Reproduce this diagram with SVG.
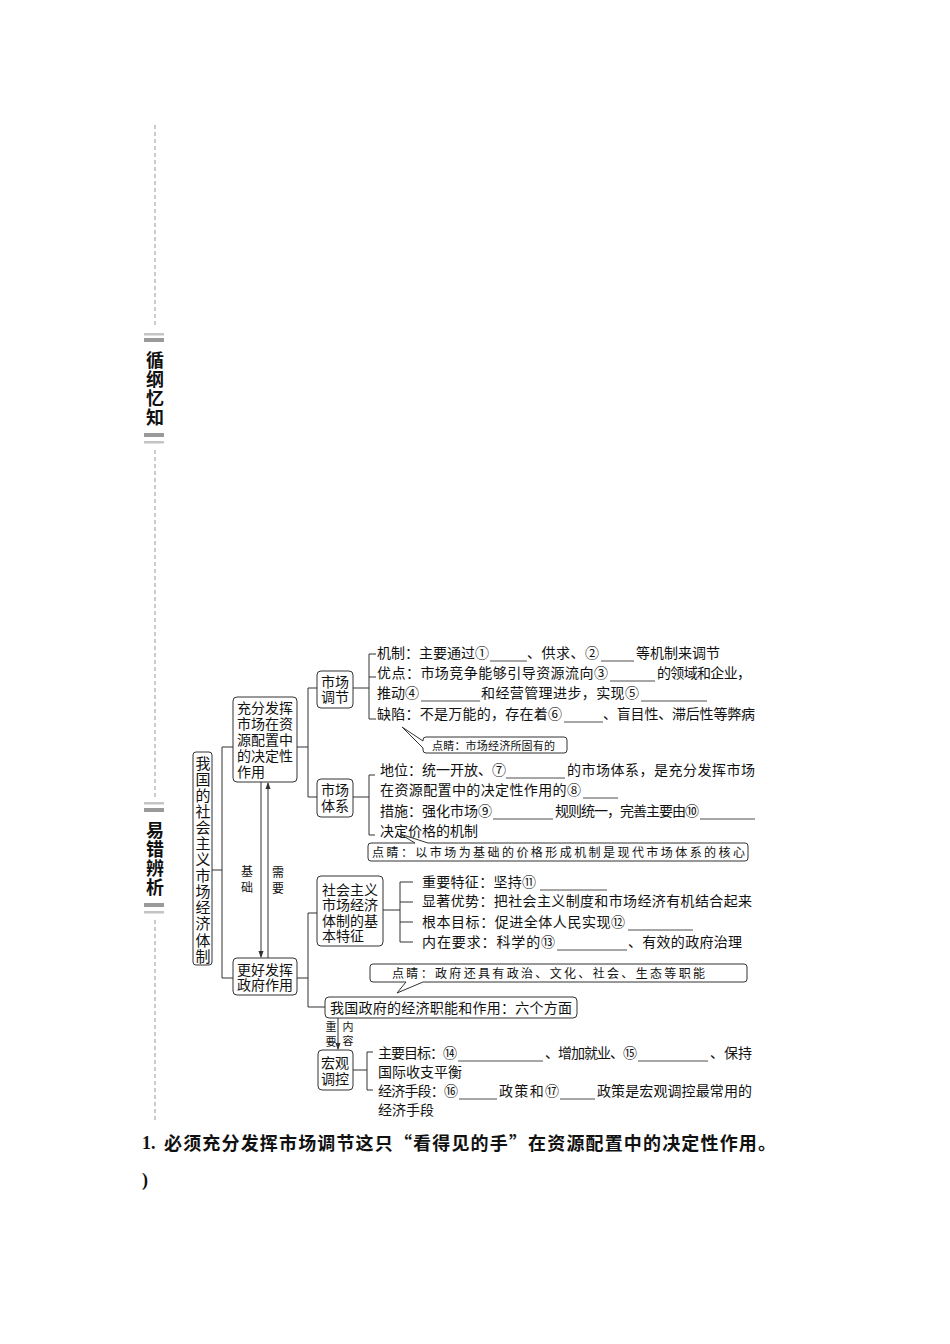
<svg xmlns="http://www.w3.org/2000/svg" width="950" height="1344" viewBox="0 0 950 1344">
<defs>
<style>
.t{font-family:"Noto Sans CJK SC","Noto Sans",sans-serif;font-size:14px;fill:#111}
.bt{font-family:"Liberation Sans","Noto Sans CJK SC",sans-serif;font-size:14px;fill:#111}
.bx{fill:#fff;stroke:#333;stroke-width:1}
.ln{fill:none;stroke:#333;stroke-width:1}
.u{stroke:#222;stroke-width:0.8}
.k{font-family:"Noto Sans CJK SC",sans-serif;font-size:12px;fill:#111}
.v{writing-mode:vertical-rl}
.sd{font-family:"Noto Sans CJK SC",sans-serif;font-size:18px;font-weight:bold;fill:#111;letter-spacing:1px}
.dash{stroke:#999;stroke-width:1;stroke-dasharray:4 3}
.lt{fill:#c4c4c4}
.dk{fill:#9a9a9a}
</style>
<marker id="ah" viewBox="0 0 8 8" refX="7" refY="4" markerWidth="7" markerHeight="7" markerUnits="userSpaceOnUse" orient="auto">
<path d="M0,1 L8,4 L0,7 Z" fill="#333"/>
</marker>
</defs>
<rect width="950" height="1344" fill="#fff"/>

<g id="sidebar">
<line class="dash" x1="155" y1="125" x2="155" y2="328"/>
<rect class="lt" x="144" y="333" width="20" height="2.5"/>
<rect class="dk" x="144" y="338" width="20" height="4"/>
<text class="sd v" x="155" y="351">循纲忆知</text>
<rect class="dk" x="144" y="433" width="20" height="4"/>
<rect class="lt" x="144" y="441" width="20" height="2.5"/>
<line class="dash" x1="155" y1="450" x2="155" y2="797"/>
<rect class="lt" x="144" y="802" width="20" height="2.5"/>
<rect class="dk" x="144" y="808" width="20" height="4"/>
<text class="sd v" x="155" y="821">易错辨析</text>
<rect class="dk" x="144" y="903" width="20" height="4"/>
<rect class="lt" x="144" y="911" width="20" height="2.5"/>
<line class="dash" x1="155" y1="920" x2="155" y2="1120"/>
</g>

<g id="connectors">
<path class="ln" d="M212,870 H222 M222,747 V978 M222,747 H233 M222,978 H233"/>
<path class="ln" d="M297,747 H308 M308,688 V797 M308,688 H317 M308,797 H317"/>
<path class="ln" d="M353,688 H369 M376,654 H369 V719 H376 M369,677 H376"/>
<path class="ln" d="M353,797 H369 M375,775 H369 V835 H375"/>
<line class="ln" x1="261" y1="782" x2="261" y2="957" marker-end="url(#ah)"/>
<line class="ln" x1="268" y1="958" x2="268" y2="783" marker-end="url(#ah)"/>
<path class="ln" d="M297,978 H308 M308,913 V1007 M308,913 H317 M308,1007 H325"/>
<path class="ln" d="M383,910 H400 M400,882 V942 M400,882 H413 M400,902 H413 M400,922 H413 M400,942 H413"/>
<line class="ln" x1="338" y1="1018" x2="338" y2="1049" marker-end="url(#ah)"/>
<path class="ln" d="M353,1070 H367 M373,1052 H367 V1090 H373"/>
</g>

<g id="root">
<rect class="bx" x="193" y="752" width="19" height="213" rx="3"/>
<text class="t v" x="203" y="755.5" style="font-size:15px;letter-spacing:1.08px">我国的社会主义市场经济体制</text>
</g>

<g id="n-chongfen">
<rect class="bx" x="233" y="697" width="64" height="85" rx="4"/>
<text class="bt"><tspan x="237" y="713">充分发挥</tspan><tspan x="237" y="729">市场在资</tspan><tspan x="237" y="745">源配置中</tspan><tspan x="237" y="761">的决定性</tspan><tspan x="237" y="777">作用</tspan></text>
</g>

<g id="n-shichangtiaojie">
<rect class="bx" x="317" y="671" width="36" height="37" rx="4"/>
<text class="bt"><tspan x="321" y="686.5">市场</tspan><tspan x="321" y="702">调节</tspan></text>
</g>

<g id="n-tiaojie-items">
<line class="u" x1="490" y1="661" x2="527" y2="661"/>
<line class="u" x1="601" y1="661" x2="634" y2="661"/>
<line class="u" x1="610" y1="681" x2="655" y2="681"/>
<line class="u" x1="421" y1="701" x2="480" y2="701"/>
<line class="u" x1="641" y1="701" x2="707" y2="701"/>
<line class="u" x1="564" y1="722" x2="603" y2="722"/>
<text class="t"><tspan x="377" y="658">机制：主要通过①</tspan><tspan x="527" y="658" textLength="72">、供求、②</tspan><tspan x="636" y="658">等机制来调节</tspan><tspan x="377" y="678" textLength="231">优点：市场竞争能够引导资源流向③</tspan><tspan x="657" y="678" textLength="94">的领域和企业，</tspan><tspan x="377" y="698">推动④</tspan><tspan x="481" y="698" textLength="158">和经营管理进步，实现⑤</tspan><tspan x="377" y="719" textLength="185">缺陷：不是万能的，存在着⑥</tspan><tspan x="603" y="719" textLength="152">、盲目性、滞后性等弊病</tspan></text>
</g>

<g id="callout1">
<path class="bx" d="M426,737 H564 Q567,737 567,740 V750 Q567,753 564,753 H426 Q423,753 423,750 V748 L402,727 L423,741 V740 Q423,737 426,737 Z"/>
<text class="k" x="432" y="749.5" style="font-size:11px" textLength="123">点睛：市场经济所固有的</text>
</g>

<g id="n-shichangtixi">
<rect class="bx" x="317" y="779" width="36" height="38" rx="4"/>
<text class="bt"><tspan x="321" y="795">市场</tspan><tspan x="321" y="811">体系</tspan></text>
</g>

<g id="n-tixi-items">
<line class="u" x1="506" y1="778" x2="565" y2="778"/>
<line class="u" x1="583" y1="798" x2="618" y2="798"/>
<line class="u" x1="493" y1="819" x2="553" y2="819"/>
<line class="u" x1="700" y1="819" x2="755" y2="819"/>
<text class="t"><tspan x="380" y="775">地位：统一开放、⑦</tspan><tspan x="567" y="775" textLength="188">的市场体系，是充分发挥市场</tspan><tspan x="380" y="795" textLength="201">在资源配置中的决定性作用的⑧</tspan><tspan x="380" y="816">措施：强化市场⑨</tspan><tspan x="555" y="816" textLength="144">规则统一，完善主要由⑩</tspan><tspan x="380" y="836">决定价格的机制</tspan></text>
</g>

<g id="callout2">
<path class="bx" d="M371,843 H415 L400,834 L428,843 H745 Q748,843 748,846 V858 Q748,861 745,861 H371 Q368,861 368,858 V846 Q368,843 371,843 Z"/>
<text class="k" x="372" y="856.5" textLength="373">点睛：以市场为基础的价格形成机制是现代市场体系的核心</text>
</g>

<g id="labels-jichu">
<text class="k v" x="247" y="865" style="letter-spacing:4px">基础</text>
<text class="k v" x="278" y="866" style="letter-spacing:4px">需要</text>
</g>

<g id="n-genghao">
<rect class="bx" x="233" y="958" width="64" height="37" rx="4"/>
<text class="bt"><tspan x="237" y="974.5">更好发挥</tspan><tspan x="237" y="990">政府作用</tspan></text>
</g>

<g id="n-shehuizhuyi">
<rect class="bx" x="317" y="876" width="66" height="70" rx="4"/>
<text class="bt"><tspan x="322" y="894.5">社会主义</tspan><tspan x="322" y="910">市场经济</tspan><tspan x="322" y="925.5">体制的基</tspan><tspan x="322" y="941">本特征</tspan></text>
</g>

<g id="n-tezheng-items">
<line class="u" x1="540" y1="890" x2="607" y2="890"/>
<line class="u" x1="628" y1="930" x2="693" y2="930"/>
<line class="u" x1="557" y1="950" x2="627" y2="950"/>
<text class="t"><tspan x="422" y="887" textLength="114">重要特征：坚持⑪</tspan><tspan x="422" y="906" textLength="330">显著优势：把社会主义制度和市场经济有机结合起来</tspan><tspan x="422" y="927" textLength="203">根本目标：促进全体人民实现⑫</tspan><tspan x="422" y="947" textLength="133">内在要求：科学的⑬</tspan><tspan x="628" y="947" textLength="114">、有效的政府治理</tspan></text>
</g>

<g id="callout3">
<path class="bx" d="M373,964 H744 Q747,964 747,967 V979 Q747,982 744,982 H423 L397,993 L406,982 H373 Q370,982 370,979 V967 Q370,964 373,964 Z"/>
<text class="k" x="392" y="977.5" textLength="313">点睛：政府还具有政治、文化、社会、生态等职能</text>
</g>

<g id="n-zhineng">
<rect class="bx" x="325" y="997" width="252" height="21" rx="4"/>
<text class="t" x="330" y="1013" textLength="242">我国政府的经济职能和作用：六个方面</text>
</g>

<g id="labels-zhongyao">
<text class="k v" x="331" y="1021.5" style="font-size:11px;letter-spacing:4px">重要</text>
<text class="k v" x="348" y="1021.5" style="font-size:11px;letter-spacing:3px">内容</text>
</g>

<g id="n-hongguan">
<rect class="bx" x="318" y="1050" width="35" height="40" rx="4"/>
<text class="bt"><tspan x="321" y="1068">宏观</tspan><tspan x="321" y="1084">调控</tspan></text>
</g>

<g id="n-hongguan-items">
<line class="u" x1="458" y1="1061" x2="543" y2="1061"/>
<line class="u" x1="638" y1="1061" x2="708" y2="1061"/>
<line class="u" x1="459" y1="1099" x2="497" y2="1099"/>
<line class="u" x1="560" y1="1099" x2="595" y2="1099"/>
<text class="t"><tspan x="378" y="1058" textLength="79">主要目标：⑭</tspan><tspan x="545" y="1058" textLength="92">、增加就业、⑮</tspan><tspan x="710" y="1058" textLength="42">、保持</tspan><tspan x="378" y="1077">国际收支平衡</tspan><tspan x="378" y="1096" textLength="80">经济手段：⑯</tspan><tspan x="499" y="1096" textLength="60">政策和⑰</tspan><tspan x="597" y="1096" textLength="155">政策是宏观调控最常用的</tspan><tspan x="378" y="1115">经济手段</tspan></text>
</g>

<g id="question">
<text x="142" y="1149" style="font-family:'Liberation Serif',serif;font-size:18px;font-weight:bold" fill="#111">1.</text>
<text x="164" y="1149.5" textLength="612" style="font-family:'Noto Sans CJK SC',sans-serif;font-size:18px;font-weight:bold" fill="#111">必须充分发挥市场调节这只“看得见的手”在资源配置中的决定性作用。</text>
<text x="142" y="1186" style="font-family:'Liberation Serif',serif;font-size:18px;font-weight:bold" fill="#111">)</text>
</g>
</svg>
